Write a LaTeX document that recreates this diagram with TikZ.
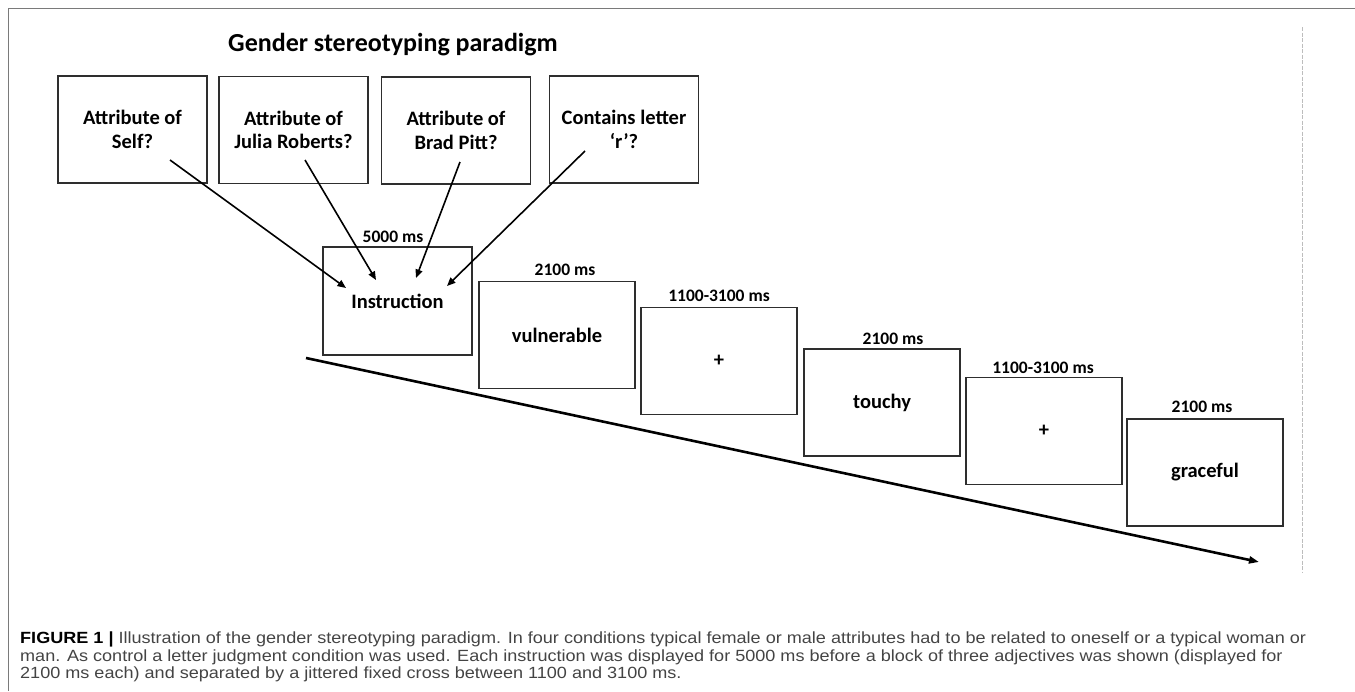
\documentclass[tikz,border=0pt]{standalone}
\usepackage{fontspec}
\setmainfont{Carlito}
\newfontfamily\capfont{Liberation Sans}
\usetikzlibrary{arrows.meta}
\definecolor{boxgray}{HTML}{2E2E2E}
\definecolor{capgray}{HTML}{444444}
\definecolor{framegray}{HTML}{7A7A7A}
\definecolor{dashgray}{HTML}{BDBDBD}
\begin{document}
\begin{tikzpicture}[x=1pt,y=-1pt,
  qbox/.style={draw=boxgray, line width=1.4pt, minimum width=149pt, minimum height=107pt, inner sep=0pt, align=center, font=\bfseries\fontsize{20.5}{23.5}\selectfont},
  slide/.style={qbox, minimum width=156pt, minimum height=107pt},
  tlabel/.style={font=\bfseries\fontsize{17.5}{19}\selectfont, inner sep=0pt},
  conn/.style={line width=1.6pt, -{Triangle[length=8.5pt,width=7pt]}},
  capline/.style={anchor=base west, inner sep=0pt, font=\capfont\fontsize{16.2}{18}\selectfont, text=capgray}
]
\useasboundingbox (0,0) rectangle (1355,691);
% frame
\draw[framegray, line width=0.9pt] (1355,8) -- (8,8) -- (8,691);
\draw[dashgray, line width=0.9pt, dash pattern=on 4pt off 1.5pt] (1302,27) -- (1302,573);
% title
\node[anchor=base west, inner sep=0pt, font=\bfseries\fontsize{26}{30}\selectfont] (title) at (228,51) {Gender stereotyping paradigm};
% question boxes
\node[qbox] (q1) at (132.5,129.5) {Attribute of\\Self?};
\node[qbox] (q2) at (293.5,130) {Attribute of\\Julia Roberts?};
\node[qbox] (q3) at (456,130.5) {Attribute of\\Brad Pitt?};
\node[qbox] (q4) at (624,129.5) {Contains letter\\‘r’?};
% sequence
\node[qbox, minimum height=108pt] (instr) at (397.5,301) {Instruction};
\node[slide] (vuln) at (557,335) {vulnerable};
\node[slide] (cross1) at (719,361) {+};
\node[slide] (touchy) at (882,402.5) {touchy};
\node[slide] (cross2) at (1044,431) {+};
\node[slide] (grace) at (1205,472.5) {graceful};
% timing labels
\node[tlabel] (t0) at (393,237) {5000 ms};
\node[tlabel] (t1) at (565,270) {2100 ms};
\node[tlabel] (t2) at (719,296) {1100-3100 ms};
\node[tlabel] (t3) at (893,339) {2100 ms};
\node[tlabel] (t4) at (1043,368) {1100-3100 ms};
\node[tlabel] (t5) at (1202,407) {2100 ms};
% connectors
\coordinate (s1) at (170,160); \coordinate (e1) at (346,288);
\coordinate (s2) at (305,160); \coordinate (e2) at (376,280);
\coordinate (s3) at (460,162); \coordinate (e3) at (416,278);
\coordinate (s4) at (585,151); \coordinate (e4) at (447,286);
\draw[conn] (s1) -- (e1);
\draw[conn] (s2) -- (e2);
\draw[conn] (s3) -- (e3);
\draw[conn] (s4) -- (e4);
% time axis
\coordinate (ta) at (306,358); \coordinate (tb) at (1259,562);
\draw[line width=2.6pt, -{Triangle[length=10pt,width=7pt]}] (ta) -- (tb);
% caption
\node[capline] (c1) at (20,643.5) {\scalebox{1.115}[1]{{\color{black}\bfseries FIGURE 1 |} Illustration of the gender stereotyping paradigm. In four conditions typical female or male attributes had to be related to oneself or a typical woman or}};
\node[capline] (c2) at (20,661) {\scalebox{1.115}[1]{man. As control a letter judgment condition was used. Each instruction was displayed for 5000 ms before a block of three adjectives was shown (displayed for}};
\node[capline] (c3) at (20,678.5) {\scalebox{1.115}[1]{2100 ms each) and separated by a jittered fixed cross between 1100 and 3100 ms.}};
\end{tikzpicture}
\end{document}
